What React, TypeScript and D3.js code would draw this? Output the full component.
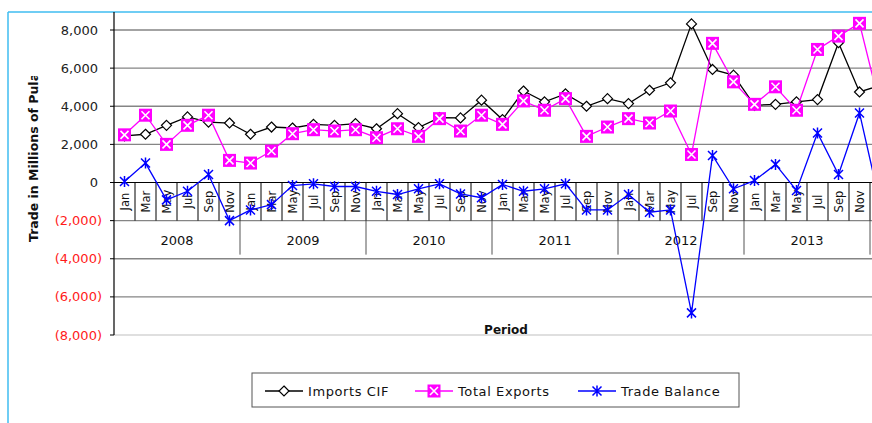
import React, { useRef, useEffect } from "react";
import * as d3 from "d3";

// bi-monthly figures, Jan 2008 .. Jan 2014 (last one runs off the right edge)
const years = ["2008", "2009", "2010", "2011", "2012", "2013", "2014"];
const months = ["Jan", "Mar", "May", "Jul", "Sep", "Nov"];

const importsCif = [
  2450, 2530, 3000, 3440, 3170, 3120,
  2530, 2910, 2860, 3050, 3000, 3090,
  2820, 3610, 2880, 3400, 3390, 4320,
  3300, 4800, 4230, 4650, 4000, 4400,
  4140, 4840, 5230, 8320, 5930, 5630,
  4050, 4100, 4230, 4350, 7330, 4750,
  5100,
];
const totalExports = [
  2500, 3530, 2000, 3000, 3530, 1160,
  1020, 1650, 2560, 2770, 2700, 2770,
  2350, 2820, 2420, 3350, 2700, 3530,
  3050, 4280, 3790, 4400, 2420, 2910,
  3350, 3120, 3750, 1470, 7300, 5280,
  4100, 5020, 3790, 6980, 7680, 8350,
  3900,
];
const tradeBalance = [
  50, 1020, -910, -460, 420, -2000,
  -1440, -1160, -160, -70, -210, -210,
  -460, -630, -330, -70, -600, -800,
  -100, -460, -330, -70, -1440, -1440,
  -630, -1560, -1440, -6840, 1420, -330,
  100, 950, -420, 2600, 420, 3650,
  -1200,
];
const yTicks = [-8000, -6000, -4000, -2000, 0, 2000, 4000, 6000, 8000];

const FONT = "DejaVu Sans, sans-serif";

const Chart = () => {
  const ref = useRef(null);

  useEffect(() => {
    if (!ref.current) return;
    const svg = d3.select(ref.current);
    svg.selectAll("*").remove();

    const W = 872, H = 423;
    const left = 114, top = 12, bottom = 335;
    const n = importsCif.length;

    const x = d3.scaleBand<number>()
      .domain(d3.range(n))
      .range([left, left + 21 * n]);
    const bw = x.bandwidth();
    const cx = (i: number) => (x(i) as number) + bw / 2;

    const y = d3.scaleLinear().domain([-8000, 8000]).range([bottom, 30]);

    // chart frame (cyan)
    svg.append("line").attr("x1", 8).attr("x2", W).attr("y1", top).attr("y2", top)
      .attr("stroke", "#3fbdf0").attr("stroke-width", 1.5);
    svg.append("line").attr("x1", 8).attr("x2", 8).attr("y1", top).attr("y2", H)
      .attr("stroke", "#3fbdf0").attr("stroke-width", 1.5);

    // gridlines
    yTicks.filter(t => t !== 0).forEach(t => {
      svg.append("line")
        .attr("x1", left).attr("x2", W)
        .attr("y1", y(t)).attr("y2", y(t))
        .attr("stroke", t === -8000 ? "#d4d4d4" : "#858585")
        .attr("stroke-width", 1.3);
    });

    // category axis at zero
    const ax = svg.append("g");
    ax.append("line").attr("x1", left).attr("x2", W).attr("y1", y(0)).attr("y2", y(0))
      .attr("stroke", "#000").attr("stroke-width", 1);
    d3.range(1, n + 1).forEach(i => {
      const xi = left + i * bw;
      ax.append("line").attr("x1", xi).attr("x2", xi).attr("y1", y(0)).attr("y2", y(-2000))
        .attr("stroke", "#000").attr("stroke-width", 1);
      if (i % 6 === 0) {
        ax.append("line").attr("x1", xi).attr("x2", xi).attr("y1", y(-2000)).attr("y2", y(-2000) + 34)
          .attr("stroke", "#555").attr("stroke-width", 1);
      }
    });
    d3.range(n).filter(i => cx(i) + 6 < W).forEach(i => {
      ax.append("text")
        .attr("transform", `translate(${cx(i)},${y(-1000)}) rotate(-90)`)
        .attr("text-anchor", "middle")
        .attr("dominant-baseline", "central")
        .attr("font-family", FONT).attr("font-size", 11.5).attr("fill", "#111")
        .text(months[i % 6]);
    });
    years.forEach((yr, k) => {
      const a = k * 6, b = k * 6 + 5;
      const mid = (left + a * bw + left + (b + 1) * bw) / 2;
      if (mid + 20 > W) return;
      ax.append("text")
        .attr("x", mid)
        .attr("y", y(-2000) + 20)
        .attr("text-anchor", "middle")
        .attr("dominant-baseline", "central")
        .attr("font-family", FONT).attr("font-size", 13).attr("fill", "#111")
        .text(yr);
    });

    // value axis
    svg.append("line").attr("x1", left).attr("x2", left).attr("y1", top).attr("y2", bottom)
      .attr("stroke", "#000").attr("stroke-width", 1.2);
    const fmt = d3.format(",");
    yTicks.forEach(t => {
      svg.append("line").attr("x1", left - 4).attr("x2", left).attr("y1", y(t)).attr("y2", y(t))
        .attr("stroke", "#000");
      svg.append("text")
        .attr("x", t < 0 ? 102 : 98)
        .attr("y", y(t))
        .attr("text-anchor", "end")
        .attr("dominant-baseline", "central")
        .attr("font-family", FONT).attr("font-size", 13)
        .attr("fill", t < 0 ? "#ff1a1a" : "#222")
        .text(t < 0 ? `(${fmt(-t)})` : fmt(t));
    });

    // titles (the value-axis title is cut at the top, as in the original)
    const clip = svg.append("clipPath").attr("id", "ttl");
    clip.append("rect").attr("x", 0).attr("y", 76).attr("width", 80).attr("height", 300);
    svg.append("g").attr("clip-path", "url(#ttl)")
      .append("text")
      .attr("transform", "translate(33,242) rotate(-90)")
      .attr("text-anchor", "start")
      .attr("dominant-baseline", "central")
      .attr("font-family", FONT).attr("font-size", 12.5).attr("font-weight", "bold")
      .attr("fill", "#111")
      .text("Trade in Millions of Pula");
    svg.append("text")
      .attr("x", 506).attr("y", 334)
      .attr("text-anchor", "middle")
      .attr("font-family", FONT).attr("font-size", 12).attr("font-weight", "bold")
      .attr("fill", "#111")
      .text("Period");

    // series
    const line = d3.line<number>().x((d, i) => cx(i)).y(d => y(d));

    const diamond = (g, px, py) => g.append("path")
      .attr("d", `M${px},${py - 5}L${px + 5},${py}L${px},${py + 5}L${px - 5},${py}Z`)
      .attr("fill", "#fff").attr("stroke", "#000").attr("stroke-width", 1.2);
    const xSquare = (g, px, py) => {
      g.append("rect").attr("x", px - 6.5).attr("y", py - 6.5).attr("width", 13).attr("height", 13)
        .attr("fill", "#ff00ff");
      g.append("path")
        .attr("d", `M${px - 4},${py - 4}L${px + 4},${py + 4}M${px + 4},${py - 4}L${px - 4},${py + 4}`)
        .attr("stroke", "#fff").attr("stroke-width", 1.6);
    };
    const star = (g, px, py) => g.append("path")
      .attr("d", `M${px - 4.5},${py - 4.5}L${px + 4.5},${py + 4.5}M${px + 4.5},${py - 4.5}L${px - 4.5},${py + 4.5}M${px},${py - 5.5}L${px},${py + 5.5}`)
      .attr("stroke", "#0000ff").attr("stroke-width", 1.5);

    const series = [
      { data: importsCif, color: "#000", marker: diamond },
      { data: totalExports, color: "#ff00ff", marker: xSquare },
      { data: tradeBalance, color: "#0000ff", marker: star },
    ];
    series.forEach(s => {
      const g = svg.append("g");
      g.append("path").attr("d", line(s.data)).attr("fill", "none")
        .attr("stroke", s.color).attr("stroke-width", 1.3);
      s.data.forEach((d, i) => s.marker(g, cx(i), y(d)));
    });

    // legend
    const lg = svg.append("g");
    lg.append("rect").attr("x", 252).attr("y", 373).attr("width", 487).attr("height", 34)
      .attr("fill", "#fff").attr("stroke", "#555").attr("stroke-width", 1);
    const items = [
      { name: "Imports CIF", x0: 265 },
      { name: "Total Exports", x0: 415 },
      { name: "Trade Balance", x0: 578 },
    ];
    items.forEach((it, k) => {
      const ly = 391;
      lg.append("line").attr("x1", it.x0).attr("x2", it.x0 + 38).attr("y1", ly).attr("y2", ly)
        .attr("stroke", series[k].color).attr("stroke-width", 1.3);
      series[k].marker(lg, it.x0 + 19, ly);
      lg.append("text").attr("x", it.x0 + 43).attr("y", ly)
        .attr("dominant-baseline", "central")
        .attr("font-family", FONT).attr("font-size", 13).attr("letter-spacing", 0.6)
        .attr("fill", "#111")
        .text(it.name);
    });
  }, []);

  return (
    <svg ref={ref} width={872} height={423}
      style={{ position: "absolute", left: 0, top: 0, background: "#fff" }}></svg>
  );
};

export default function App() {
  return <Chart />;
}
